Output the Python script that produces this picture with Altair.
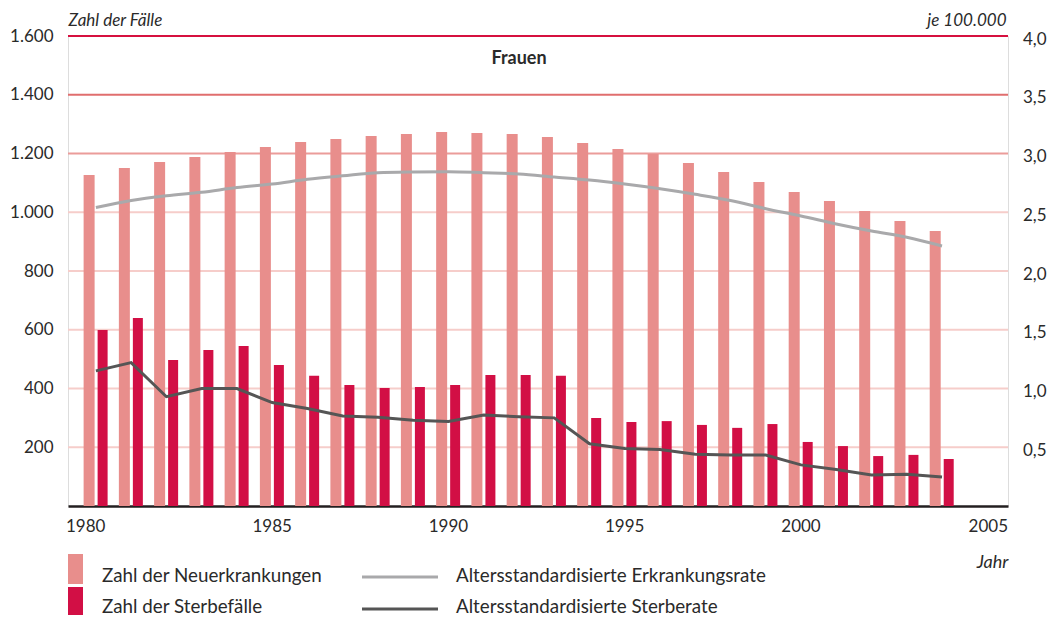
import altair as alt
import pandas as pd

years = list(range(1980, 2005))
neuerkrankungen = [1127, 1151, 1171, 1188, 1205, 1222, 1239, 1249, 1260, 1266, 1273, 1270, 1266,
                   1256, 1236, 1215, 1198, 1168, 1137, 1103, 1069, 1038, 1004, 970, 936]
sterbefaelle = [599, 640, 497, 531, 545, 480, 443, 412, 402, 405, 412, 446, 446,
                443, 300, 286, 289, 276, 266, 279, 218, 204, 170, 174, 160]
erkrankungsrate = [2.54, 2.60, 2.64, 2.67, 2.71, 2.74, 2.78, 2.81, 2.837, 2.843, 2.845, 2.837, 2.826,
                   2.80, 2.774, 2.74, 2.70, 2.653, 2.60, 2.53, 2.468, 2.40, 2.34, 2.287, 2.213]
sterberate = [1.15, 1.22, 0.93, 1.0, 1.0, 0.88, 0.83, 0.766, 0.755, 0.73, 0.72, 0.775, 0.76,
              0.75, 0.53, 0.49, 0.48, 0.44, 0.434, 0.434, 0.35, 0.31, 0.264, 0.27, 0.247]

grid_values = [1600, 1400, 1200, 1000, 800, 600, 400, 200]
grid_colors = ["#d6103f", "#e06e6e", "#eb9c9a", "#f6cdca", "#f6cdca", "#f6cdca", "#f6cdca", "#f6cdca"]
x_ticks_mid = [1985, 1990, 1995, 2000]
x_tick_first = ["1980"]
x_tick_last = ["2005"]
left_ticks = [200, 400, 600, 800, 1000, 1200, 1400, 1600]
right_ticks = [0.5, 1.0, 1.5, 2.0, 2.5, 3.0, 3.5, 4.0]

legend_labels = ["Zahl der Neuerkrankungen", "Zahl der Sterbefälle",
                 "Altersstandardisierte Erkrankungsrate", "Altersstandardisierte Sterberate"]

C_NEU = "#e88e8c"
C_TOD = "#d20f45"
C_ERK = "#a9a9ab"
C_STR = "#555555"
TXT = "#2a2a2a"
FONT = "Lato"

df = pd.DataFrame({"year": years, "neu": neuerkrankungen, "tod": sterbefaelle,
                   "erk": erkrankungsrate, "str": sterberate})
grid_df = pd.DataFrame({"v": grid_values, "c": grid_colors})

xscale = alt.Scale(domain=[1979.35, 2005.73], nice=False, zero=False)
xaxis = alt.Axis(values=x_ticks_mid, labels=False, title="Jahr", ticks=False, tickSize=0,
                 grid=False, domainColor="#231f20", domainWidth=2.5,
                 titleFontSize=18, titleFontStyle="italic", titleFontWeight="normal",
                 titleColor=TXT, titleAlign="right", titleAnchor="end",
                 titleX=940, titleY=56, titleBaseline="middle")

yscale_left = alt.Scale(domain=[0, 1600], nice=False)
left_axis = alt.Axis(values=left_ticks, title="Zahl der Fälle", orient="left",
                     labelExpr="replace(format(datum.value, ','), ',', '.')",
                     ticks=False, tickSize=0, domain=False, grid=False,
                     labelFontSize=17, labelColor=TXT, labelPadding=15,
                     titleFontSize=17, titleFontStyle="italic", titleFontWeight="normal",
                     titleColor=TXT, titleAngle=0, titleAlign="left",
                     titleX=0, titleY=-16, titleBaseline="middle")

yscale_right = alt.Scale(domain=[0, 4], nice=False)
right_axis = alt.Axis(values=right_ticks, title="je 100.000", orient="right",
                      labelExpr="replace(format(datum.value, '.1f'), '.', ',')",
                      ticks=False, tickSize=0, domain=False, grid=False,
                      labelFontSize=17, labelColor=TXT, labelPadding=38, labelAlign="right",
                      labelOffset=3,
                      titleFontSize=17, titleFontStyle="italic", titleFontWeight="normal",
                      titleColor=TXT, titleAngle=0, titleAlign="right",
                      titleX=-2, titleY=-16, titleBaseline="middle")

rules = alt.Chart(grid_df).mark_rule(strokeWidth=2).encode(
    y=alt.Y("v:Q", scale=yscale_left, axis=left_axis),
    color=alt.Color("c:N", scale=None),
)
bars_neu = alt.Chart(df).mark_bar(width=11, xOffset=-6.8, color=C_NEU).encode(
    x=alt.X("year:Q", scale=xscale, axis=xaxis),
    y=alt.Y("neu:Q", scale=yscale_left, axis=left_axis),
)
bars_tod = alt.Chart(df).mark_bar(width=10, xOffset=6.7, color=C_TOD).encode(
    x=alt.X("year:Q", scale=xscale, axis=xaxis),
    y=alt.Y("tod:Q", scale=yscale_left, axis=left_axis),
)
left = alt.layer(rules, bars_neu, bars_tod)

line_erk = alt.Chart(df).mark_line(color=C_ERK, strokeWidth=3, interpolate="monotone").encode(
    x=alt.X("year:Q", scale=xscale, axis=xaxis),
    y=alt.Y("erk:Q", scale=yscale_right, axis=right_axis),
)
line_str = alt.Chart(df).mark_line(color=C_STR, strokeWidth=3).encode(
    x=alt.X("year:Q", scale=xscale, axis=xaxis),
    y=alt.Y("str:Q", scale=yscale_right, axis=right_axis),
)
right = alt.layer(line_erk, line_str)

# year labels: middle ones centred on their tick, first/last flush with the axis ends
xlab_mid = alt.Chart(pd.DataFrame({"year": x_ticks_mid})).mark_text(
    font=FONT, fontSize=17, color=TXT, align="center", baseline="middle").encode(
    x=alt.X("year:Q", scale=xscale, axis=xaxis),
    y=alt.value(491),
    text=alt.Text("year:Q", format="d"),
)
xlab_first = alt.Chart(pd.DataFrame({"t": x_tick_first})).mark_text(
    font=FONT, fontSize=17, color=TXT, align="left", baseline="middle").encode(
    x=alt.value(-2), y=alt.value(491), text="t:N")
xlab_last = alt.Chart(pd.DataFrame({"t": x_tick_last})).mark_text(
    font=FONT, fontSize=17, color=TXT, align="right", baseline="middle").encode(
    x=alt.value(940), y=alt.value(491), text="t:N")

title_df = pd.DataFrame({"t": ["Frauen"]})
title = alt.Chart(title_df).mark_text(font=FONT, fontSize=18, fontWeight="bold", color=TXT,
                                      align="center", baseline="middle").encode(
    x=alt.value(451), y=alt.value(23), text="t:N")

leg_df = pd.DataFrame({"label": legend_labels})


def leg_text(i, x, y):
    return alt.Chart(leg_df.iloc[[i]]).mark_text(font=FONT, fontSize=18.8, color=TXT,
                                                 align="left", baseline="middle").encode(
        x=alt.value(x), y=alt.value(y), text="label:N")


sw1 = alt.Chart(leg_df.iloc[[0]]).mark_rect(color=C_NEU).encode(
    x=alt.value(0), x2=alt.value(15), y=alt.value(518), y2=alt.value(548))
sw2 = alt.Chart(leg_df.iloc[[1]]).mark_rect(color=C_TOD).encode(
    x=alt.value(0), x2=alt.value(15), y=alt.value(551), y2=alt.value(579))
ln1 = alt.Chart(leg_df.iloc[[2]]).mark_rule(color=C_ERK, strokeWidth=3).encode(
    x=alt.value(294), x2=alt.value(370), y=alt.value(541))
ln2 = alt.Chart(leg_df.iloc[[3]]).mark_rule(color=C_STR, strokeWidth=3).encode(
    x=alt.value(294), x2=alt.value(370), y=alt.value(573))

chart = alt.layer(
    left, right, xlab_mid, xlab_first, xlab_last, title,
    sw1, sw2, ln1, ln2,
    leg_text(0, 34, 540), leg_text(1, 34, 571),
    leg_text(2, 388, 540), leg_text(3, 388, 571),
).resolve_scale(y="independent").properties(
    width=940, height=470,
    autosize="none",
    padding={"left": 60, "top": 28, "right": 44, "bottom": 111},
    background="white",
).configure_view(stroke=None).configure(font=FONT)

chart.save("out.html", embed_options={"renderer": "svg", "actions": False})
